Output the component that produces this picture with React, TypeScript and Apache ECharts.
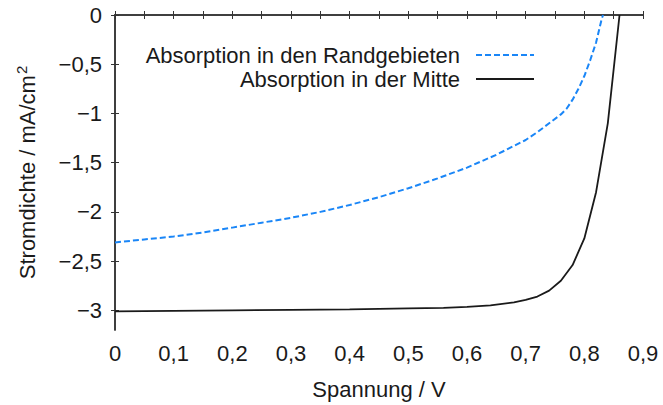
import React, { useEffect, useRef } from "react";
import * as echarts from "echarts";

// Voltage (V) and current density (mA/cm²) samples
const spannungRand = [0, 0.05, 0.1, 0.15, 0.2, 0.25, 0.3, 0.35, 0.4, 0.45, 0.5, 0.55, 0.6, 0.65, 0.7, 0.72, 0.74, 0.76, 0.77, 0.78, 0.79, 0.8, 0.81, 0.82, 0.83, 0.832];
const stromRand = [-2.31, -2.28, -2.25, -2.21, -2.16, -2.11, -2.06, -2.0, -1.93, -1.85, -1.76, -1.66, -1.55, -1.42, -1.27, -1.19, -1.1, -1.01, -0.95, -0.86, -0.75, -0.62, -0.46, -0.28, -0.03, 0];

const spannungMitte = [0, 0.1, 0.2, 0.3, 0.4, 0.5, 0.56, 0.6, 0.64, 0.68, 0.7, 0.72, 0.74, 0.76, 0.78, 0.8, 0.82, 0.84, 0.86];
const stromMitte = [-3.01, -3.005, -3.0, -2.995, -2.99, -2.98, -2.975, -2.965, -2.95, -2.92, -2.895, -2.86, -2.8, -2.7, -2.54, -2.27, -1.8, -1.1, 0];

const yTickValues = [0, -0.5, -1, -1.5, -2, -2.5, -3];

const seriesNames = ["Absorption in den Randgebieten", "Absorption in der Mitte"];

const FONT = "'Liberation Sans', Arial, Helvetica, sans-serif";
const FS = 22;
const TEXT_COLOR = "#1a1a1a";
const AXIS_COLOR = "#333333";

const fmt = (v: number) => {
  const r = Math.round(v * 100) / 100;
  if (r === 0) return "0";
  return (r < 0 ? "\u2212" : "") + String(Math.abs(r)).replace(".", ",");
};

const pairs = (xs: number[], ys: number[]) => xs.map((x, i) => [x, ys[i]]);

export default function App() {
  const ref = useRef<HTMLDivElement>(null);

  useEffect(() => {
    if (!ref.current) return;
    const chart = echarts.init(ref.current, undefined, { renderer: "svg" });

    const tickCommon = { inside: true, length: 4, lineStyle: { color: AXIS_COLOR, width: 1 } };
    const lineCommon = { show: true, lineStyle: { color: AXIS_COLOR, width: 1.5 } };

    const xBase = {
      type: "value" as const,
      min: 0,
      max: 0.9,
      interval: 0.1,
      axisLine: lineCommon,
      axisTick: tickCommon,
      minorTick: { show: true, splitNumber: 2, length: 4, lineStyle: { color: AXIS_COLOR, width: 1 } },
      splitLine: { show: false },
      minorSplitLine: { show: false },
    };
    const yBase = {
      type: "value" as const,
      min: -3.2,
      max: 0,
      axisLine: lineCommon,
      axisTick: { ...tickCommon, customValues: yTickValues },
      splitLine: { show: false },
    };

    const legendCommon = {
      right: 128,
      align: "right" as const,
      padding: 0,
      itemWidth: 58,
      itemHeight: 16,
      itemStyle: { opacity: 0 },
      textStyle: { fontSize: FS, color: TEXT_COLOR, fontFamily: FONT, padding: [0, 11, 0, 0] },
    };

    chart.setOption({
      animation: false,
      backgroundColor: "#ffffff",
      textStyle: { fontFamily: FONT },
      grid: { left: 115, right: 20, top: 15, bottom: 70, containLabel: false },
      xAxis: [
        {
          ...xBase,
          position: "bottom",
          name: "Spannung / V",
          nameLocation: "middle",
          nameGap: 48,
          nameTextStyle: { fontSize: FS, color: TEXT_COLOR, fontFamily: FONT },
          axisLabel: { show: true, margin: 12, fontSize: FS, color: TEXT_COLOR, fontFamily: FONT, formatter: fmt },
        },
        { ...xBase, position: "top", axisLabel: { show: false } },
      ],
      yAxis: [
        {
          ...yBase,
          position: "left",
          name: "{a|Stromdichte / mA/cm}{b|2}",
          nameLocation: "middle",
          nameGap: 75,
          nameRotate: 90,
          nameTextStyle: {
            fontFamily: FONT,
            color: TEXT_COLOR,
            rich: {
              a: { fontSize: FS, fontFamily: FONT, color: TEXT_COLOR },
              b: { fontSize: 15, fontFamily: FONT, color: TEXT_COLOR, padding: [0, 0, 11, 1] },
            },
          },
          axisLabel: {
            show: true,
            margin: 13,
            fontSize: FS,
            color: TEXT_COLOR,
            fontFamily: FONT,
            customValues: yTickValues,
            formatter: fmt,
          },
        },
        { ...yBase, position: "right", axisLabel: { show: false } },
      ],
      legend: [
        { ...legendCommon, data: [seriesNames[0]], top: 44 },
        { ...legendCommon, data: [seriesNames[1]], top: 68 },
      ],
      series: [
        {
          name: seriesNames[0],
          type: "line",
          xAxisIndex: 0,
          yAxisIndex: 0,
          data: pairs(spannungRand, stromRand),
          symbol: "none",
          showSymbol: false,
          clip: true,
          itemStyle: { color: "#1a86f7" },
          lineStyle: { color: "#1a86f7", width: 2, type: [6, 3] },
        },
        {
          name: seriesNames[1],
          type: "line",
          xAxisIndex: 0,
          yAxisIndex: 0,
          data: pairs(spannungMitte, stromMitte),
          symbol: "none",
          showSymbol: false,
          clip: true,
          itemStyle: { color: "#1a1a1a" },
          lineStyle: { color: "#1a1a1a", width: 1.8 },
        },
      ],
    });

    return () => chart.dispose();
  }, []);

  return (
    <div
      ref={ref}
      style={{ position: "fixed", left: 0, top: 0, width: 663, height: 405 }}
    />
  );
}
